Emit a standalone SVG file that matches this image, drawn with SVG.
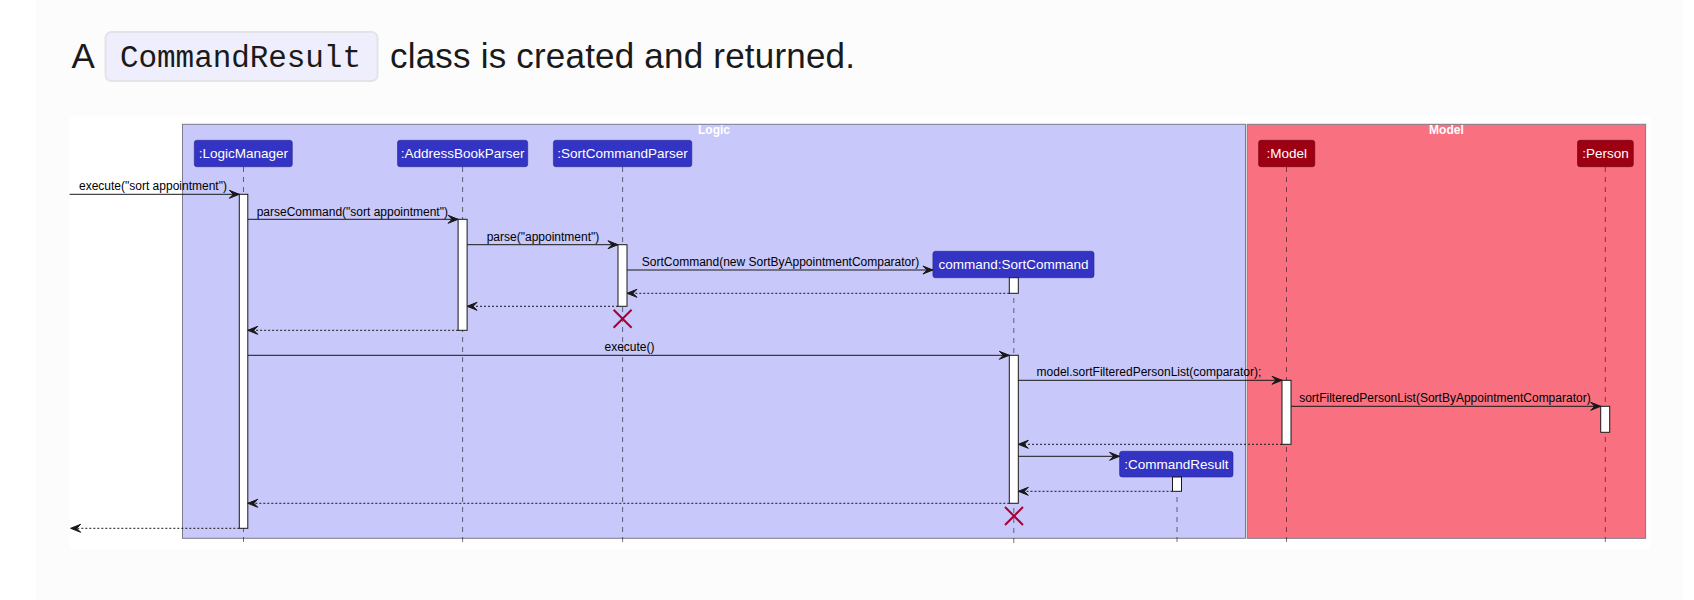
<svg xmlns="http://www.w3.org/2000/svg" width="1694" height="600" viewBox="0 0 1694 600">
<style>
.msg{font-family:"Liberation Sans",Arial,sans-serif;font-size:12px;fill:#000}
.ptxt{font-family:"Liberation Sans",Arial,sans-serif;font-size:13.5px;fill:#fff;text-anchor:middle}
.ftitle{font-family:"Liberation Sans",Arial,sans-serif;font-size:12px;font-weight:bold;fill:#fff;text-anchor:middle}
.pL{fill:#3333C4;stroke:#26268f;stroke-width:0.6}
.pM{fill:#9D0012;stroke:#6a000c;stroke-width:0.6}
.life{stroke:#181818;stroke-width:0.6;stroke-dasharray:5,5;fill:none}
.act{fill:#fff;stroke:#181818;stroke-width:1}
.call{stroke:#181818;stroke-width:1;fill:none;marker-end:url(#ah)}
.ret{stroke:#181818;stroke-width:1;stroke-dasharray:2,2;fill:none;marker-end:url(#ah)}
.x{stroke:#A80036;stroke-width:2}
</style>
<defs>
<marker id="ah" markerUnits="userSpaceOnUse" markerWidth="11" markerHeight="9" refX="10" refY="4" orient="auto" overflow="visible">
<path d="M0,0 L10,4 L0,8 L4,4 Z" fill="#181818" stroke="#181818" stroke-width="1"/>
</marker>
</defs>
<rect x="0" y="0" width="1694" height="600" fill="#ffffff"/>
<rect x="36" y="0" width="1647" height="600" fill="#fcfcfc"/>
<g id="heading">
<text x="71.5" y="68" font-family="'Liberation Sans',Arial,sans-serif" font-size="35" fill="#1a1a1a">A</text>
<rect x="105.5" y="32" width="272" height="49" rx="6" fill="#eeeefc" stroke="#e3e3ea" stroke-width="2"/>
<text x="120" y="67" font-family="'Liberation Mono','Courier New',monospace" font-size="31" fill="#1a1a1a" textLength="241">CommandResult</text>
<text x="390" y="68" font-family="'Liberation Sans',Arial,sans-serif" font-size="35" fill="#1a1a1a" textLength="465">class is created and returned.</text>
</g>
<rect x="70" y="116.7" width="1580" height="432.3" fill="#ffffff"/>
<g id="frame-logic">
<rect x="182.5" y="124.3" width="1063" height="414" fill="#C8C8FA" stroke="#7b7b8a" stroke-width="1"/>
<text class="ftitle" x="714" y="133.5">Logic</text>
</g>
<g id="frame-model">
<rect x="1247.2" y="124.3" width="398.4" height="414" fill="#F97181" stroke="#7b7b8a" stroke-width="1"/>
<text class="ftitle" x="1446.4" y="133.5">Model</text>
</g>
<g id="lifelines">
<line class="life" x1="243.5" y1="167" x2="243.5" y2="543.5"/>
<line class="life" x1="462.6" y1="167" x2="462.6" y2="543.5"/>
<line class="life" x1="622.6" y1="167" x2="622.6" y2="543.5"/>
<line class="life" x1="1013.8" y1="278" x2="1013.8" y2="543.5"/>
<line class="life" x1="1177" y1="477" x2="1177" y2="543.5"/>
<line class="life" x1="1286.5" y1="167" x2="1286.5" y2="543.5"/>
<line class="life" x1="1605.3" y1="167" x2="1605.3" y2="543.5"/>
</g>
<g id="LogicManager">
<rect class="pL" x="194.3" y="140.3" width="98" height="26.4" rx="2.5"/>
<text class="ptxt" x="243.3" y="158">:LogicManager</text>
<rect class="act" x="239.3" y="194.3" width="8.5" height="334"/>
</g>
<g id="AddressBookParser">
<rect class="pL" x="397.5" y="140.3" width="130.2" height="26.4" rx="2.5"/>
<text class="ptxt" x="462.6" y="158">:AddressBookParser</text>
<rect class="act" x="458.1" y="219.3" width="9" height="111"/>
</g>
<g id="SortCommandParser">
<rect class="pL" x="553.4" y="140.3" width="138.4" height="26.4" rx="2.5"/>
<text class="ptxt" x="622.6" y="158">:SortCommandParser</text>
<rect class="act" x="618" y="244.7" width="9" height="61.6"/>
<line class="x" x1="613.6" y1="309.7" x2="631.6" y2="327.7"/>
<line class="x" x1="631.6" y1="309.7" x2="613.6" y2="327.7"/>
</g>
<g id="SortCommand">
<rect class="pL" x="932.9" y="251.3" width="161.1" height="26.4" rx="2.5"/>
<text class="ptxt" x="1013.5" y="269">command:SortCommand</text>
<rect class="act" x="1009.3" y="277.7" width="9" height="15.6"/>
<rect class="act" x="1009.3" y="355.3" width="9" height="148"/>
<line class="x" x1="1005" y1="507" x2="1023" y2="525"/>
<line class="x" x1="1023" y1="507" x2="1005" y2="525"/>
</g>
<g id="CommandResult">
<rect class="pL" x="1119.6" y="451.3" width="113.4" height="25.7" rx="2.5"/>
<text class="ptxt" x="1176.3" y="468.8">:CommandResult</text>
<rect class="act" x="1172.5" y="477" width="9" height="14.3"/>
</g>
<g id="Model">
<rect class="pM" x="1258.6" y="140.3" width="56.2" height="26.4" rx="2.5"/>
<text class="ptxt" x="1286.7" y="158">:Model</text>
<rect class="act" x="1282" y="380.3" width="9" height="64"/>
</g>
<g id="Person">
<rect class="pM" x="1577.5" y="140.3" width="55.8" height="26.4" rx="2.5"/>
<text class="ptxt" x="1605.4" y="158">:Person</text>
<rect class="act" x="1600.7" y="406.3" width="9" height="26"/>
</g>
<g id="connectors">
<line class="call" x1="69.6" y1="194.3" x2="239.3" y2="194.3"/>
<text class="msg" x="79" y="190">execute("sort appointment")</text>
<line class="call" x1="247.8" y1="219.3" x2="458.1" y2="219.3"/>
<text class="msg" x="256.7" y="215.5">parseCommand("sort appointment")</text>
<line class="call" x1="467.1" y1="244.7" x2="618" y2="244.7"/>
<text class="msg" x="486.7" y="240.7">parse("appointment")</text>
<line class="call" x1="627" y1="270" x2="932.9" y2="270"/>
<text class="msg" x="641.8" y="265.5">SortCommand(new SortByAppointmentComparator)</text>
<line class="ret" x1="1009.3" y1="293.3" x2="627" y2="293.3"/>
<line class="ret" x1="618" y1="306.3" x2="467.1" y2="306.3"/>
<line class="ret" x1="458.1" y1="330.3" x2="247.8" y2="330.3"/>
<line class="call" x1="247.8" y1="355.3" x2="1009.3" y2="355.3"/>
<text class="msg" x="604.5" y="351">execute()</text>
<line class="call" x1="1018.3" y1="380.3" x2="1282" y2="380.3"/>
<text class="msg" x="1036.6" y="376">model.sortFilteredPersonList(comparator);</text>
<line class="call" x1="1291" y1="406.3" x2="1600.7" y2="406.3"/>
<text class="msg" x="1299.2" y="401.5">sortFilteredPersonList(SortByAppointmentComparator)</text>
<line class="ret" x1="1282" y1="444.3" x2="1018.3" y2="444.3"/>
<line class="call" x1="1018.3" y1="456.3" x2="1119.6" y2="456.3"/>
<line class="ret" x1="1172.5" y1="491.3" x2="1018.3" y2="491.3"/>
<line class="ret" x1="1009.3" y1="503.3" x2="247.8" y2="503.3"/>
<line class="ret" x1="239.3" y1="528.3" x2="70.7" y2="528.3"/>
</g>
</svg>
